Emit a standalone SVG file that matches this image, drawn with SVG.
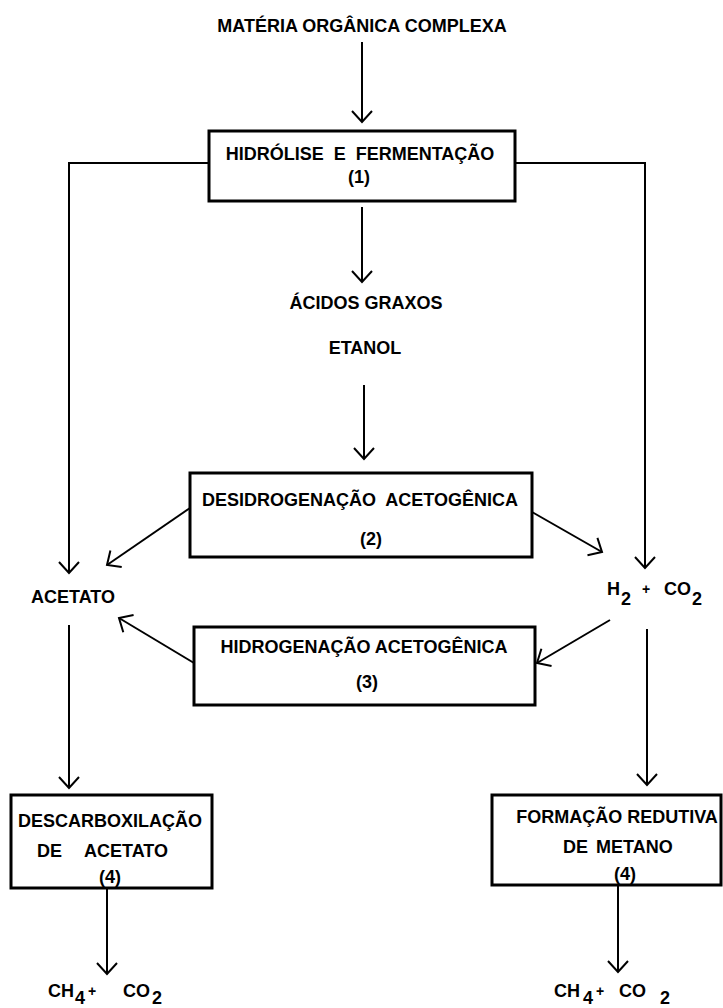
<svg xmlns="http://www.w3.org/2000/svg" width="723" height="1008" viewBox="0 0 723 1008">
<style>
text{font-family:"Liberation Sans",Arial,sans-serif;font-weight:bold;font-size:18px;fill:#000}
.c{text-anchor:middle}
.box{fill:#fff;stroke:#000;stroke-width:3}
.ln{fill:none;stroke:#000;stroke-width:2}
.plus{font-size:14px}
</style>
<defs>
<marker id="ah" markerUnits="userSpaceOnUse" markerWidth="30" markerHeight="30" viewBox="-15 -15 30 30" refX="0" refY="0" orient="auto" overflow="visible">
<path d="M-11,-10 L0,0 L-11,10" fill="none" stroke="#000" stroke-width="2"/>
</marker>
</defs>
<rect width="723" height="1008" fill="#fff"/>
<g id="connectors">
<line class="ln" x1="362" y1="42" x2="362" y2="122" marker-end="url(#ah)"/>
<polyline class="ln" points="209,163 69,163 69,573" marker-end="url(#ah)"/>
<polyline class="ln" points="515,163 645,163 645,568" marker-end="url(#ah)"/>
<line class="ln" x1="362" y1="207" x2="362" y2="282" marker-end="url(#ah)"/>
<line class="ln" x1="364" y1="385" x2="364" y2="459" marker-end="url(#ah)"/>
<line class="ln" x1="190" y1="508" x2="107" y2="565" marker-end="url(#ah)"/>
<line class="ln" x1="532" y1="512" x2="602" y2="552" marker-end="url(#ah)"/>
<line class="ln" x1="194" y1="663" x2="119" y2="618" marker-end="url(#ah)"/>
<line class="ln" x1="610" y1="620" x2="537" y2="663" marker-end="url(#ah)"/>
<line class="ln" x1="69" y1="625" x2="69" y2="788" marker-end="url(#ah)"/>
<line class="ln" x1="647" y1="629" x2="647" y2="785" marker-end="url(#ah)"/>
<line class="ln" x1="107" y1="888" x2="107" y2="974" marker-end="url(#ah)"/>
<line class="ln" x1="618" y1="885" x2="618" y2="972" marker-end="url(#ah)"/>
</g>
<g id="materia">
<text class="c" x="362" y="32">MATÉRIA ORGÂNICA COMPLEXA</text>
</g>
<g id="hidrolise">
<rect class="box" x="209" y="131" width="306" height="70"/>
<text class="c" x="360" y="160" xml:space="preserve">HIDRÓLISE  E  FERMENTAÇÃO</text>
<text class="c" x="359" y="183">(1)</text>
</g>
<g id="acidos">
<text class="c" x="366" y="309">ÁCIDOS GRAXOS</text>
<text class="c" x="365" y="354">ETANOL</text>
</g>
<g id="desidrogenacao">
<rect class="box" x="190" y="473" width="342" height="84"/>
<text class="c" x="360" y="506" xml:space="preserve">DESIDROGENAÇÃO  ACETOGÊNICA</text>
<text class="c" x="371" y="545">(2)</text>
</g>
<g id="acetato">
<text x="31" y="603">ACETATO</text>
</g>
<g id="h2co2">
<text><tspan x="607" y="595">H</tspan><tspan x="621" y="605">2</tspan><tspan class="plus" x="642" y="594">+</tspan><tspan x="664" y="595">CO</tspan><tspan x="692" y="605">2</tspan></text>
</g>
<g id="hidrogenacao">
<rect class="box" x="194" y="627" width="341" height="78"/>
<text class="c" x="364" y="653">HIDROGENAÇÃO ACETOGÊNICA</text>
<text class="c" x="367" y="688">(3)</text>
</g>
<g id="descarboxilacao">
<rect class="box" x="11" y="795" width="201" height="93"/>
<text class="c" x="110" y="827">DESCARBOXILAÇÃO</text>
<text><tspan x="37" y="857">DE</tspan><tspan x="84" y="857">ACETATO</tspan></text>
<text class="c" x="110" y="883">(4)</text>
</g>
<g id="formacao">
<rect class="box" x="492" y="795" width="229" height="90"/>
<text class="c" x="617" y="823">FORMAÇÃO REDUTIVA</text>
<text><tspan x="563" y="853">DE</tspan><tspan x="596" y="853">METANO</tspan></text>
<text class="c" x="625" y="880">(4)</text>
</g>
<g id="produtos-esq">
<text><tspan x="48" y="997">CH</tspan><tspan x="75" y="1004">4</tspan><tspan class="plus" x="88" y="996">+</tspan><tspan x="123" y="997">CO</tspan><tspan x="152" y="1004">2</tspan></text>
</g>
<g id="produtos-dir">
<text><tspan x="554" y="997">CH</tspan><tspan x="583" y="1004">4</tspan><tspan class="plus" x="596" y="996">+</tspan><tspan x="619" y="997">CO</tspan><tspan x="660" y="1004">2</tspan></text>
</g>
</svg>
